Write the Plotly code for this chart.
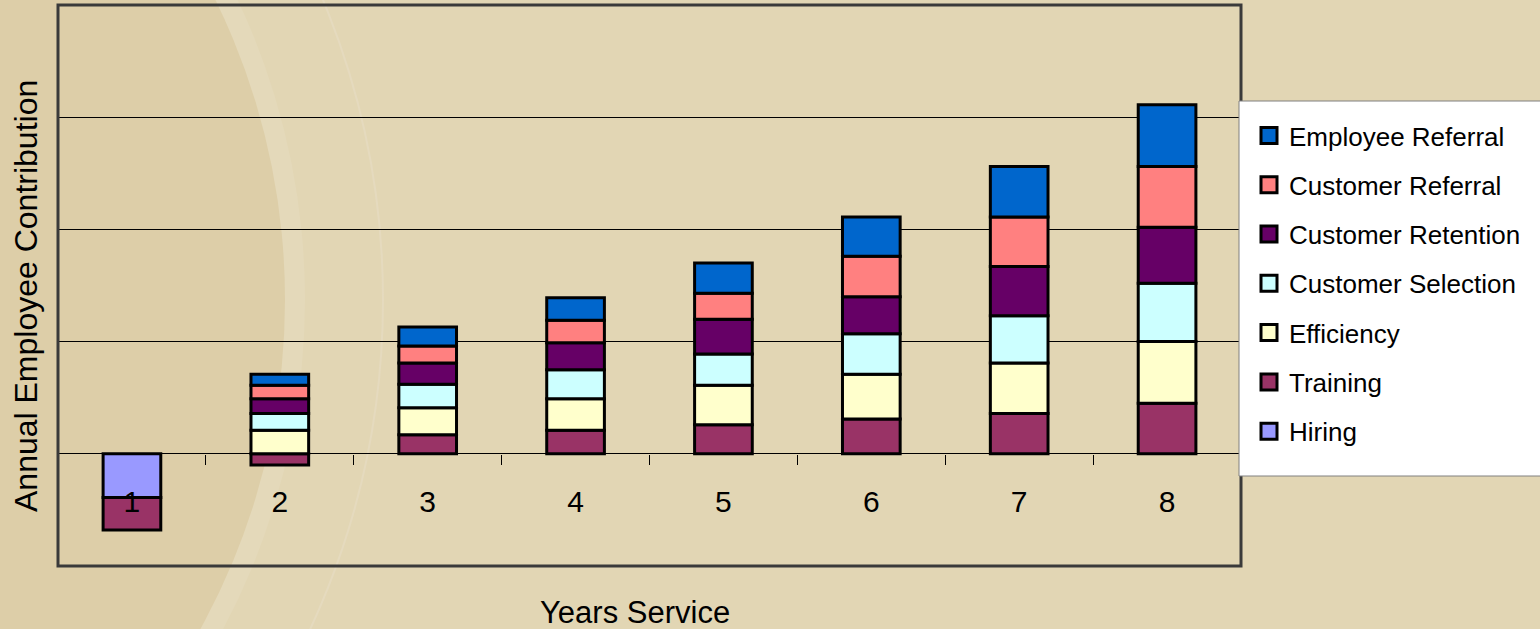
import plotly.graph_objects as go

# ---------------- data ----------------
years = ["1", "2", "3", "4", "5", "6", "7", "8"]
series_names = ["Hiring", "Training", "Efficiency", "Customer Selection",
                "Customer Retention", "Customer Referral", "Employee Referral"]
hiring = [-0.39, None, None, None, None, None, None, None]
training = [-0.29, -0.10, 0.17, 0.21, 0.26, 0.31, 0.36, 0.45]
efficiency = [None, 0.21, 0.24, 0.28, 0.35, 0.40, 0.45, 0.55]
customer_selection = [None, 0.15, 0.21, 0.26, 0.28, 0.36, 0.42, 0.52]
customer_retention = [None, 0.13, 0.19, 0.24, 0.31, 0.33, 0.44, 0.50]
customer_referral = [None, 0.12, 0.15, 0.20, 0.23, 0.36, 0.44, 0.54]
employee_referral = [None, 0.10, 0.17, 0.20, 0.27, 0.35, 0.45, 0.55]

series_values = [hiring, training, efficiency, customer_selection,
                 customer_retention, customer_referral, employee_referral]
series_colors = ["#9999FF", "#993366", "#FFFFCC", "#CCFFFF",
                 "#660066", "#FF8080", "#0066CC"]

x_title = "Years Service"
y_title = "Annual Employee Contribution"

# ---------------- layout geometry ----------------
W, H = 1540, 629
ML, MR, MT, MB = 58, 299, 5, 63
PW, PH = W - ML - MR, H - MT - MB


def px_x(px):
    return (px - ML) / PW


def px_y(py):
    return (H - MB - py) / PH


FONT = "Liberation Sans, Arial, sans-serif"
BG = "#E2D6B4"

fig = go.Figure()

n = len(series_names)
for i, (name, vals, col) in enumerate(zip(series_names, series_values, series_colors)):
    rank = 100 + (n - i) * 10  # top of stack first in legend
    fig.add_trace(go.Bar(
        x=years, y=vals, name=name, legendgroup=name, showlegend=False,
        legendrank=rank, width=0.39,
        marker=dict(color=col, line=dict(color="black", width=3)),
    ))
    # legend proxy with a larger square symbol
    fig.add_trace(go.Scatter(
        x=[None], y=[None], mode="markers", name=name, legendgroup=name,
        legendrank=rank,
        marker=dict(symbol="square", size=16, color=col,
                    line=dict(color="black", width=3)),
    ))

# decorative background arcs (theme background)
def circle(cx, cy, r, **kw):
    return dict(type="circle", xref="paper", yref="paper",
                x0=px_x(cx - r), x1=px_x(cx + r),
                y0=px_y(cy + r), y1=px_y(cy - r), layer="below", **kw)

shapes = [
    circle(-397, 300, 702, fillcolor="#E4D9BA", line=dict(width=0)),
    circle(-397, 300, 682, fillcolor="#DDCEA8", line=dict(width=0)),
    circle(-397, 300, 780, fillcolor="rgba(0,0,0,0)",
           line=dict(color="#E5DABE", width=2)),
    # plot border
    dict(type="rect", xref="paper", yref="paper", x0=0, x1=1, y0=0, y1=1,
         line=dict(color="#3A3A3A", width=3), layer="above"),
    # legend box
    dict(type="rect", xref="paper", yref="paper",
         x0=px_x(1239), x1=px_x(1548), y0=px_y(476), y1=px_y(101),
         fillcolor="white", line=dict(color="#808080", width=1), layer="above"),
]

annotations = [
    dict(text=x_title, xref="paper", yref="paper", x=px_x(635), y=px_y(612),
         xanchor="center", yanchor="middle", showarrow=False,
         font=dict(family=FONT, size=31, color="black")),
    dict(text=y_title, xref="paper", yref="paper", x=px_x(26), y=px_y(296),
         xanchor="center", yanchor="middle", showarrow=False, textangle=-90,
         font=dict(family=FONT, size=32, color="black")),
]

fig.update_layout(
    width=W, height=H,
    margin=dict(l=ML, r=MR, t=MT, b=MB, autoexpand=False),
    paper_bgcolor=BG, plot_bgcolor="rgba(0,0,0,0)",
    barmode="relative",
    font=dict(family=FONT, color="black"),
    shapes=shapes, annotations=annotations,
    xaxis=dict(type="category", range=[-0.5, 7.5], anchor="free", position=0.2,
               showline=False, showgrid=False, zeroline=False,
               ticks="outside", tickson="boundaries", ticklen=10, tickwidth=1,
               tickcolor="black", ticklabelstandoff=27,
               tickfont=dict(family=FONT, size=30, color="black")),
    yaxis=dict(range=[-1, 4], dtick=1, tick0=0, showgrid=True, gridcolor="black",
               gridwidth=1, zeroline=True, zerolinecolor="black", zerolinewidth=1,
               showticklabels=False, ticks=""),
    legend=dict(x=px_x(1249), y=px_y(112), xanchor="left", yanchor="top",
                bgcolor="rgba(0,0,0,0)", borderwidth=0,
                font=dict(family=FONT, size=26, color="black"),
                traceorder="grouped", tracegroupgap=12.5, itemwidth=30),
    showlegend=True,
)

fig.write_html("out.html")
